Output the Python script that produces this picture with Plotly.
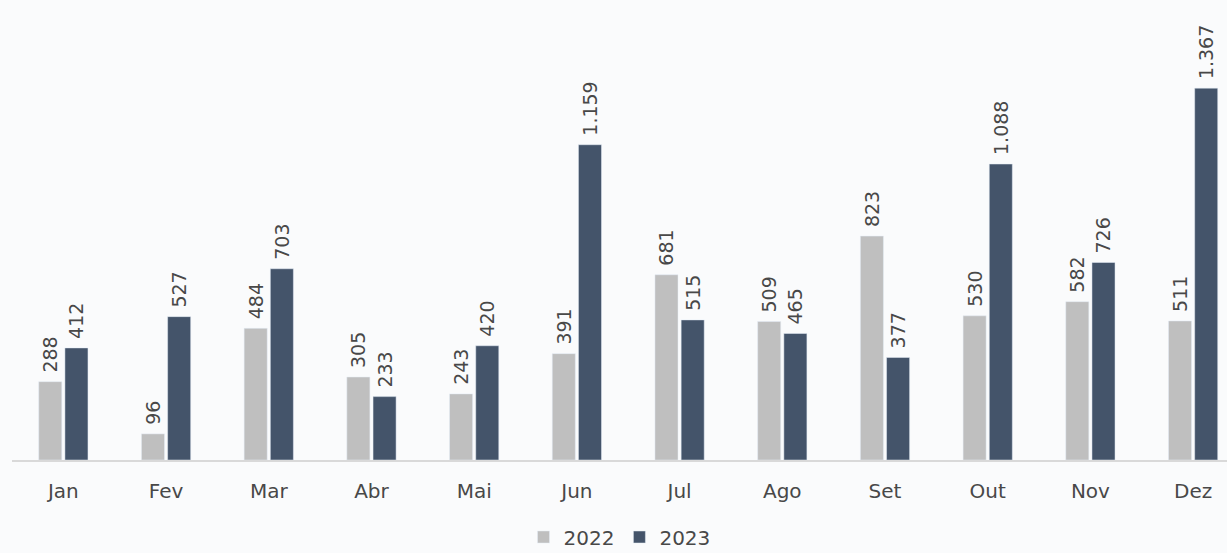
import plotly.graph_objects as go

meses = ['Jan', 'Fev', 'Mar', 'Abr', 'Mai', 'Jun', 'Jul', 'Ago', 'Set', 'Out', 'Nov', 'Dez']
v2022 = [288, 96, 484, 305, 243, 391, 681, 509, 823, 530, 582, 511]
v2023 = [412, 527, 703, 233, 420, 1159, 515, 465, 377, 1088, 726, 1367]

fonte = 'DejaVu Sans'
cor_texto = '#484848'

fig = go.Figure()
fig.add_trace(go.Bar(x=meses, y=v2022, name='2022',
                     marker_color='#bfbfbf',
                     texttemplate='\u00a0%{y:,}', textposition='outside',
                     textangle=-90, constraintext='none', cliponaxis=False,
                     textfont=dict(size=19, color=cor_texto, family=fonte)))
fig.add_trace(go.Bar(x=meses, y=v2023, name='2023',
                     marker_color='#44546a',
                     texttemplate='\u00a0%{y:,}', textposition='outside',
                     textangle=-90, constraintext='none', cliponaxis=False,
                     textfont=dict(size=19, color=cor_texto, family=fonte)))

fig.update_layout(width=1227, height=553,
                  separators=',.',
                  barmode='group', bargap=0.49, bargroupgap=0.12,
                  paper_bgcolor='#fafbfc', plot_bgcolor='rgba(0,0,0,0)',
                  margin=dict(l=12, r=0, t=0, b=93, autoexpand=False),
                  font=dict(family=fonte, color=cor_texto),
                  legend=dict(orientation='h', x=0.5, xanchor='center', y=-0.125, yanchor='top',
                              font=dict(size=20, color=cor_texto), itemwidth=30,
                              traceorder='normal', bgcolor='rgba(0,0,0,0)'),
                  showlegend=True)
fig.update_xaxes(range=[-0.5, 11.33], showline=True, linecolor='#d9d9d9', linewidth=2,
                 tickfont=dict(size=20, color=cor_texto), ticklabelstandoff=12,
                 showgrid=False)
fig.update_yaxes(range=[0, 1691], visible=False, showgrid=False)

fig.write_html('out.html', config={'displayModeBar': False},
               post_script="document.body.style.margin='0';")
